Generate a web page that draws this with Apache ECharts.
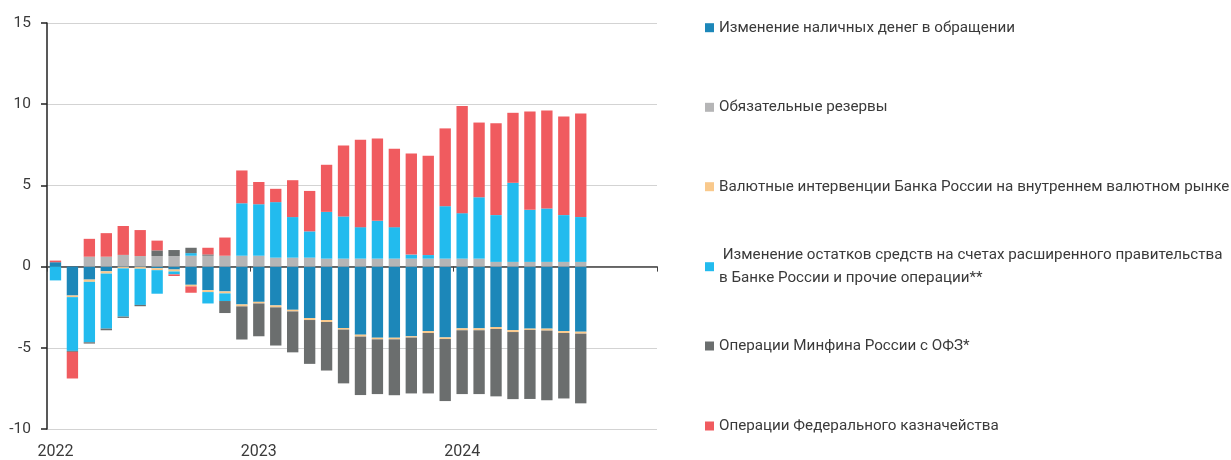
<!DOCTYPE html>
<html>
<head>
<meta charset="utf-8">
<script src="https://cdn.jsdelivr.net/npm/echarts@6/dist/echarts.min.js"></script>
<style>
  html, body { margin: 0; padding: 0; background: #ffffff; }
  #chart { width: 1231px; height: 460px; }
</style>
</head>
<body>
<div id="chart"></div>
<script>
// Monthly factors of banking-sector liquidity, трлн руб., Jan 2022 – Aug 2024
const months = [];
for (let y = 2022; y <= 2024; y++) {
  for (let m = 1; m <= 12; m++) months.push(y + '-' + String(m).padStart(2, '0'));
}

const seriesNames = [
  'Изменение наличных денег в обращении',
  'Обязательные резервы',
  'Валютные интервенции Банка России на внутреннем валютном рынке',
  'Изменение остатков средств на счетах расширенного правительства в Банке России и прочие операции**',
  'Операции Минфина России с ОФЗ*',
  'Операции Федерального казначейства'
];

const cash = [0.27, -1.78, -0.8, -0.29, -0.03, -0.03, -0.1, -0.18, -1.12, -1.45, -1.53, -2.33,
  -2.17, -2.39, -2.66, -3.17, -3.29, -3.78, -4.19, -4.38, -4.38, -4.29, -3.97, -4.36,
  -3.8, -3.8, -3.72, -3.91, -3.82, -3.82, -3.97, -4.01];

const reserves = [0, 0, 0.61, 0.61, 0.72, 0.65, 0.65, 0.65, 0.67, 0.67, 0.67, 0.67,
  0.67, 0.55, 0.55, 0.55, 0.49, 0.49, 0.49, 0.49, 0.49, 0.49, 0.49, 0.49,
  0.49, 0.49, 0.29, 0.29, 0.29, 0.29, 0.29, 0.29];

const fxInterventions = [0, -0.1, -0.14, -0.14, -0.08, -0.1, -0.12, -0.12, -0.1, -0.12, -0.12, -0.12,
  -0.1, -0.12, -0.1, -0.12, -0.12, -0.1, -0.12, -0.1, -0.1, -0.08, -0.12, -0.1,
  -0.12, -0.12, -0.12, -0.12, -0.08, -0.12, -0.12, -0.12];

const govAccounts = [-0.85, -3.31, -3.72, -3.39, -2.97, -2.23, -1.45, -0.18, 0.16, -0.7, -0.47, 3.23,
  3.17, 3.42, 2.5, 1.62, 2.88, 2.6, 1.94, 2.33, 1.94, 0.25, 0.22, 3.23,
  2.8, 3.78, 2.88, 4.87, 3.21, 3.29, 2.88, 2.76];

const ofzOperations = [0, -0.06, -0.08, -0.1, -0.08, -0.08, 0.35, 0.37, 0.33, 0.08, -0.74, -2.04,
  -2.02, -2.35, -2.52, -2.7, -2.99, -3.31, -3.6, -3.37, -3.44, -3.44, -3.72, -3.82,
  -3.93, -3.93, -4.15, -4.13, -4.25, -4.29, -4.03, -4.29];

const treasury = [0.1, -1.64, 1.1, 1.45, 1.78, 1.6, 0.6, -0.1, -0.39, 0.41, 1.12, 2.02,
  1.37, 0.82, 2.27, 2.49, 2.9, 4.36, 5.38, 5.07, 4.83, 6.22, 6.11, 4.79,
  6.6, 4.6, 5.66, 4.31, 6.05, 6.03, 6.07, 6.38];

const seriesData = [cash, reserves, fxInterventions, govAccounts, ofzOperations, treasury];
const colors = ['#1c87b9', '#b5b5b6', '#f9c98c', '#22bbee', '#6b6e6e', '#f05b5f'];

const FONT = 'Roboto, "Noto Sans", sans-serif';
const TEXT = '#3a3a3a';

// Legend rows: vertical centre of each row's first text line
const legendCenters = [27.7, 107.3, 186.7, 266.7, 346, 426];
const LINE = 23;

const legends = seriesNames.map((name, i) => {
  const twoLine = i === 3;
  return {
    data: [name],
    orient: 'vertical',
    left: 705,
    top: twoLine ? legendCenters[i] - 1.5 * LINE : legendCenters[i] - LINE / 2,
    padding: 0,
    itemWidth: 9,
    itemHeight: 9,
    icon: 'rect',
    selectedMode: false,
    formatter: twoLine
      ? () => ' Изменение остатков средств на счетах расширенного правительства\nв Банке России и прочие операции**'
      : '{name}',
    textStyle: {
      fontFamily: FONT,
      fontSize: 15.2,
      color: TEXT,
      lineHeight: LINE,
      padding: twoLine ? [LINE, 0, 0, 0] : 0
    }
  };
});

const chart = echarts.init(document.getElementById('chart'), null, { renderer: 'canvas' });

chart.setOption({
  animation: false,
  backgroundColor: '#ffffff',
  legend: legends,
  grid: { left: 47, right: 574, top: 23, bottom: 30, containLabel: false },
  xAxis: [
    {
      // axis drawn along zero: line and year boundary ticks
      type: 'category',
      data: months,
      boundaryGap: true,
      position: 'bottom',
      axisLine: { show: true, onZero: true, lineStyle: { color: '#404040', width: 1.5 } },
      axisTick: { show: true, interval: 11, length: 5, lineStyle: { color: '#404040', width: 1 } },
      axisLabel: { show: false },
      splitLine: { show: false }
    },
    {
      // year labels below the plot
      type: 'category',
      data: months,
      boundaryGap: true,
      position: 'bottom',
      axisLine: { show: false, onZero: false },
      axisTick: { show: false },
      axisLabel: {
        show: true,
        interval: 11,
        margin: 15,
        fontFamily: FONT,
        fontSize: 16,
        color: TEXT,
        formatter: v => v.slice(0, 4)
      },
      splitLine: { show: false }
    }
  ],
  yAxis: {
    type: 'value',
    min: -10,
    max: 15,
    interval: 5,
    axisLine: { show: true, lineStyle: { color: '#222222', width: 1.5 } },
    axisTick: { show: true, length: 6, lineStyle: { color: '#222222', width: 1.5 } },
    axisLabel: { margin: 16, fontFamily: FONT, fontSize: 15.5, color: TEXT },
    splitLine: { show: true, lineStyle: { color: '#d3d3d3', width: 1.2 } }
  },
  series: seriesNames.map((name, i) => ({
    name: name,
    type: 'bar',
    xAxisIndex: 0,
    stack: 'liquidity',
    stackStrategy: 'samesign',
    barCategoryGap: '33%',
    data: seriesData[i],
    itemStyle: { color: colors[i] },
    emphasis: { disabled: true }
  }))
});
</script>
</body>
</html>
